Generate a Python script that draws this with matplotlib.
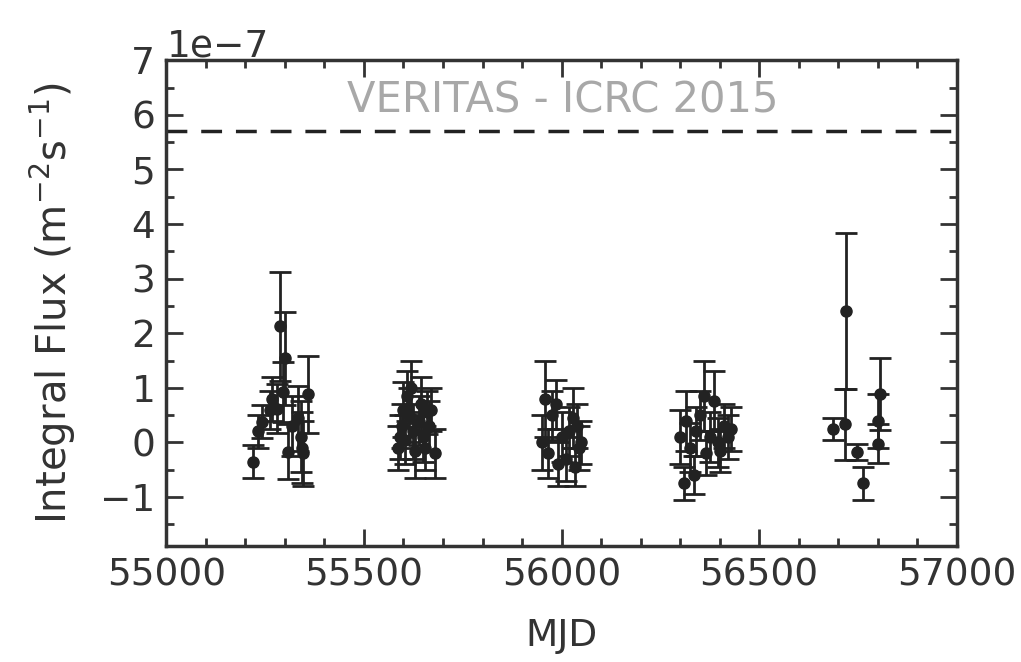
import numpy as np
import matplotlib
matplotlib.use('Agg')
import matplotlib.pyplot as plt
from matplotlib.ticker import MultipleLocator

# light curve points (flux in units of 1e-7 m^-2 s^-1)
mjd1 = [55220, 55233, 55243, 55262, 55268, 55280, 55288, 55296, 55300, 55308, 55318, 55334, 55340, 55344, 55346, 55359]
flux1 = [-0.35, 0.2, 0.38, 0.6, 0.8, 0.62, 2.13, 0.93, 1.54, -0.17, 0.3, 0.44, 0.1, -0.1, -0.2, 0.88]
err1 = [0.3, 0.3, 0.3, 0.35, 0.4, 0.45, 1.0, 0.55, 0.85, 0.5, 0.55, 0.6, 0.65, 0.65, 0.6, 0.7]

mjd2 = [55585, 55590, 55597, 55600, 55605, 55610, 55615, 55620, 55625, 55630, 55640, 55645, 55650, 55655, 55660, 55665, 55670, 55680]
flux2 = [-0.1, 0.1, 0.3, 0.6, 0.05, 0.85, 0.5, 1.0, 0.2, -0.15, 0.4, 0.7, 0.1, -0.1, 0.55, 0.3, 0.6, -0.2]
err2 = [0.4, 0.4, 0.4, 0.5, 0.45, 0.45, 0.5, 0.5, 0.5, 0.5, 0.45, 0.5, 0.45, 0.4, 0.4, 0.45, 0.4, 0.45]

mjd3 = [55950, 55958, 55965, 55975, 55985, 55990, 56000, 56010, 56020, 56030, 56035, 56040, 56045, 56050]
flux3 = [0.0, 0.8, -0.2, 0.5, 0.7, -0.4, 0.1, -0.3, 0.2, 0.45, -0.45, 0.3, -0.1, 0.0]
err3 = [0.5, 0.7, 0.45, 0.45, 0.45, 0.4, 0.45, 0.4, 0.45, 0.55, 0.35, 0.4, 0.4, 0.4]

mjd4 = [56300, 56310, 56315, 56325, 56335, 56340, 56350, 56360, 56365, 56375, 56385, 56395, 56400, 56410, 56420, 56430]
flux4 = [0.1, -0.75, 0.4, -0.1, -0.6, 0.2, 0.5, 0.85, -0.2, 0.1, 0.75, 0.0, -0.15, 0.3, 0.1, 0.25]
err4 = [0.5, 0.3, 0.55, 0.45, 0.35, 0.45, 0.45, 0.65, 0.4, 0.45, 0.55, 0.45, 0.4, 0.4, 0.4, 0.4]

mjd5 = [56686, 56717, 56721, 56747, 56763, 56800, 56802, 56805]
flux5 = [0.24, 0.33, 2.4, -0.17, -0.75, -0.02, 0.39, 0.88]
err5 = [0.2, 0.65, 1.43, 0.15, 0.3, 0.35, 0.5, 0.66]

veritas_level = 5.7
scale = 1e-7

mjd = np.array(mjd1 + mjd2 + mjd3 + mjd4 + mjd5)
flux = np.array(flux1 + flux2 + flux3 + flux4 + flux5) * scale
err = np.array(err1 + err2 + err3 + err4 + err5) * scale

plt.rcParams['font.family'] = 'DejaVu Sans'
plt.rcParams['font.size'] = 27

fig = plt.figure(figsize=(10.21, 6.62), dpi=100)
ax = fig.add_axes([0.163, 0.175, 0.774, 0.734])

ax.errorbar(mjd, flux, yerr=err, fmt='o', color='#222222', ms=8,
            elinewidth=2, capsize=8, capthick=2)
ax.axhline(veritas_level * scale, color='#222222', ls='--', lw=2.5, dashes=(6, 4))
ax.text(56004, 6.26 * scale, 'VERITAS - ICRC 2015', color='#a8a8a8',
        fontsize=30, ha='center', va='center')

ax.set_xlim(55000, 57000)
ax.set_ylim(-1.9e-7, 7e-7)
ax.xaxis.set_major_locator(MultipleLocator(500))
ax.xaxis.set_minor_locator(MultipleLocator(100))
ax.yaxis.set_major_locator(MultipleLocator(1e-7))
ax.yaxis.set_minor_locator(MultipleLocator(0.5e-7))
ax.tick_params(which='both', direction='in', top=True, right=True, width=2, colors='#333333')
ax.tick_params(which='major', length=12, pad=8)
ax.tick_params(which='minor', length=6)
for s in ax.spines.values():
    s.set_linewidth(2.5)
    s.set_color('#333333')

ax.set_xlabel('MJD', color='#333333', labelpad=18)
ax.set_ylabel(r'Integral Flux (m$^{-2}$s$^{-1}$)', color='#333333', fontsize=29, labelpad=16)
ax.yaxis.get_offset_text().set_color('#333333')

fig.savefig('out.png', dpi=100)
